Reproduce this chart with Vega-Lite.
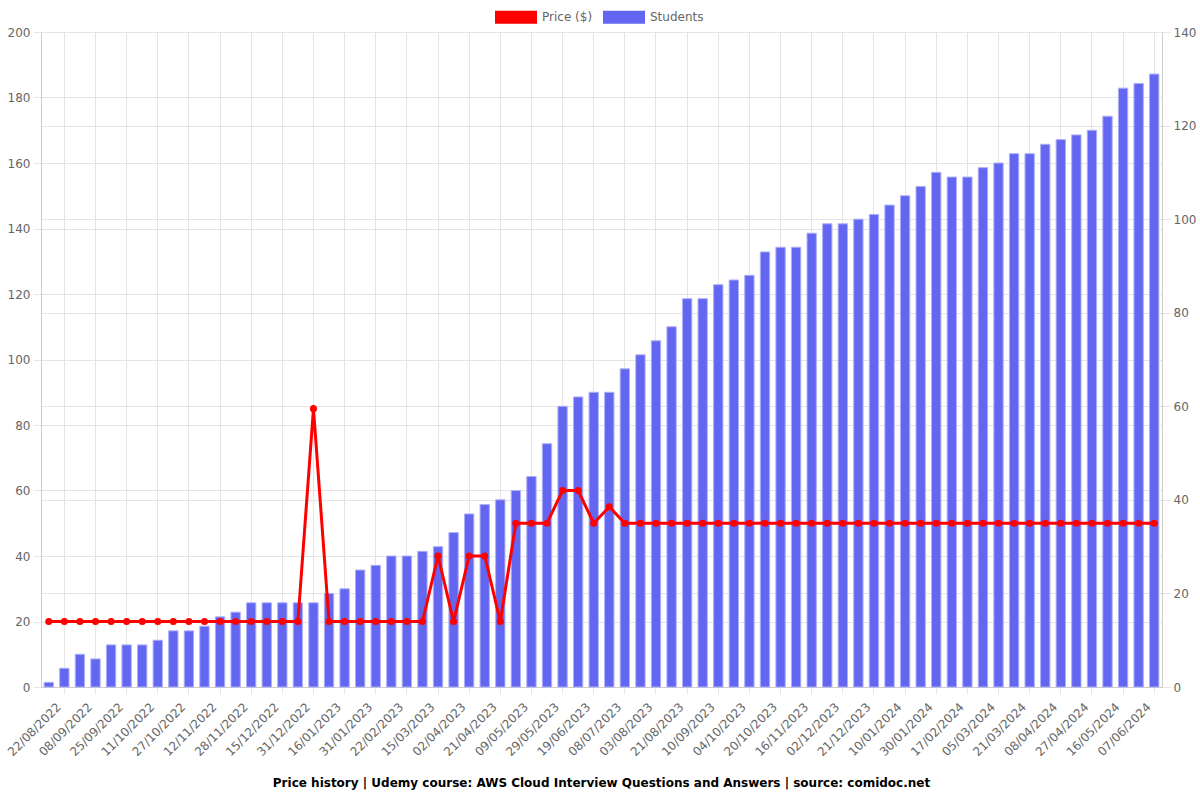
{
  "$schema": "https://vega.github.io/schema/vega-lite/v6.json",
  "width": 1121,
  "height": 655,
  "autosize": {"type": "none"},
  "padding": {"left": 41, "top": 32, "right": 38, "bottom": 113},
  "background": "white",
  "config": {
    "view": {"stroke": null},
    "font": "DejaVu Sans",
    "axis": {
      "labelFont": "DejaVu Sans",
      "labelFontSize": 12,
      "labelColor": "#666666",
      "gridColor": "#e5e5e5",
      "tickColor": "#e5e5e5",
      "domainColor": "#cccccc",
      "tickSize": 8,
      "labelPadding": 3,
      "title": null
    }
  },
  "title": {
    "text": "Price history | Udemy course: AWS Cloud Interview Questions and Answers | source: comidoc.net",
    "orient": "bottom",
    "anchor": "middle",
    "font": "DejaVu Sans",
    "fontSize": 12,
    "fontWeight": "bold",
    "color": "#000000",
    "offset": 20
  },
  "data": {
    "values": [
      {"date": "14/08/2022", "price": 20, "students": 1},
      {"date": "22/08/2022", "price": 20, "students": 4},
      {"date": "31/08/2022", "price": 20, "students": 7},
      {"date": "08/09/2022", "price": 20, "students": 6},
      {"date": "17/09/2022", "price": 20, "students": 9},
      {"date": "25/09/2022", "price": 20, "students": 9},
      {"date": "03/10/2022", "price": 20, "students": 9},
      {"date": "11/10/2022", "price": 20, "students": 10},
      {"date": "19/10/2022", "price": 20, "students": 12},
      {"date": "27/10/2022", "price": 20, "students": 12},
      {"date": "04/11/2022", "price": 20, "students": 13},
      {"date": "12/11/2022", "price": 20, "students": 15},
      {"date": "20/11/2022", "price": 20, "students": 16},
      {"date": "28/11/2022", "price": 20, "students": 18},
      {"date": "06/12/2022", "price": 20, "students": 18},
      {"date": "15/12/2022", "price": 20, "students": 18},
      {"date": "23/12/2022", "price": 20, "students": 18},
      {"date": "31/12/2022", "price": 85, "students": 18},
      {"date": "08/01/2023", "price": 20, "students": 20},
      {"date": "16/01/2023", "price": 20, "students": 21},
      {"date": "24/01/2023", "price": 20, "students": 25},
      {"date": "31/01/2023", "price": 20, "students": 26},
      {"date": "10/02/2023", "price": 20, "students": 28},
      {"date": "22/02/2023", "price": 20, "students": 28},
      {"date": "05/03/2023", "price": 20, "students": 29},
      {"date": "15/03/2023", "price": 40, "students": 30},
      {"date": "24/03/2023", "price": 20, "students": 33},
      {"date": "02/04/2023", "price": 40, "students": 37},
      {"date": "11/04/2023", "price": 40, "students": 39},
      {"date": "21/04/2023", "price": 20, "students": 40},
      {"date": "30/04/2023", "price": 50, "students": 42},
      {"date": "09/05/2023", "price": 50, "students": 45},
      {"date": "19/05/2023", "price": 50, "students": 52},
      {"date": "29/05/2023", "price": 60, "students": 60},
      {"date": "08/06/2023", "price": 60, "students": 62},
      {"date": "19/06/2023", "price": 50, "students": 63},
      {"date": "28/06/2023", "price": 55, "students": 63},
      {"date": "08/07/2023", "price": 50, "students": 68},
      {"date": "22/07/2023", "price": 50, "students": 71},
      {"date": "03/08/2023", "price": 50, "students": 74},
      {"date": "12/08/2023", "price": 50, "students": 77},
      {"date": "21/08/2023", "price": 50, "students": 83},
      {"date": "31/08/2023", "price": 50, "students": 83},
      {"date": "10/09/2023", "price": 50, "students": 86},
      {"date": "22/09/2023", "price": 50, "students": 87},
      {"date": "04/10/2023", "price": 50, "students": 88},
      {"date": "12/10/2023", "price": 50, "students": 93},
      {"date": "20/10/2023", "price": 50, "students": 94},
      {"date": "01/11/2023", "price": 50, "students": 94},
      {"date": "16/11/2023", "price": 50, "students": 97},
      {"date": "24/11/2023", "price": 50, "students": 99},
      {"date": "02/12/2023", "price": 50, "students": 99},
      {"date": "11/12/2023", "price": 50, "students": 100},
      {"date": "21/12/2023", "price": 50, "students": 101},
      {"date": "31/12/2023", "price": 50, "students": 103},
      {"date": "10/01/2024", "price": 50, "students": 105},
      {"date": "20/01/2024", "price": 50, "students": 107},
      {"date": "30/01/2024", "price": 50, "students": 110},
      {"date": "08/02/2024", "price": 50, "students": 109},
      {"date": "17/02/2024", "price": 50, "students": 109},
      {"date": "26/02/2024", "price": 50, "students": 111},
      {"date": "05/03/2024", "price": 50, "students": 112},
      {"date": "13/03/2024", "price": 50, "students": 114},
      {"date": "21/03/2024", "price": 50, "students": 114},
      {"date": "29/03/2024", "price": 50, "students": 116},
      {"date": "08/04/2024", "price": 50, "students": 117},
      {"date": "18/04/2024", "price": 50, "students": 118},
      {"date": "27/04/2024", "price": 50, "students": 119},
      {"date": "06/05/2024", "price": 50, "students": 122},
      {"date": "16/05/2024", "price": 50, "students": 128},
      {"date": "27/05/2024", "price": 50, "students": 129},
      {"date": "07/06/2024", "price": 50, "students": 131}
    ]
  },
  "encoding": {
    "x": {
      "field": "date",
      "type": "nominal",
      "sort": null,
      "scale": {"paddingInner": 0.4, "paddingOuter": 0.2},
      "axis": {
        "labelAngle": -45,
        "bandPosition": 0.5,
        "grid": true,
        "tickSize": 7,
        "labelOffset": -9,
        "labelPadding": 7,
        "values": ["22/08/2022", "08/09/2022", "25/09/2022", "11/10/2022", "27/10/2022", "12/11/2022", "28/11/2022", "15/12/2022", "31/12/2022", "16/01/2023", "31/01/2023", "22/02/2023", "15/03/2023", "02/04/2023", "21/04/2023", "09/05/2023", "29/05/2023", "19/06/2023", "08/07/2023", "03/08/2023", "21/08/2023", "10/09/2023", "04/10/2023", "20/10/2023", "16/11/2023", "02/12/2023", "21/12/2023", "10/01/2024", "30/01/2024", "17/02/2024", "05/03/2024", "21/03/2024", "08/04/2024", "27/04/2024", "16/05/2024", "07/06/2024"]
      }
    }
  },
  "layer": [
    {
      "mark": {"type": "bar", "stroke": "#aeb0f8", "strokeWidth": 1},
      "encoding": {
        "y": {
          "field": "students",
          "type": "quantitative",
          "scale": {"domain": [0, 140], "nice": false},
          "axis": {"orient": "right", "grid": true, "values": [0, 20, 40, 60, 80, 100, 120, 140]}
        },
        "color": {
          "datum": "Students",
          "type": "nominal",
          "scale": {"domain": ["Price ($)", "Students"], "range": ["#ff0000", "#6366f1"]},
          "legend": {
            "title": null,
            "orient": "none",
            "direction": "horizontal",
            "legendX": 454,
            "legendY": -36,
            "padding": 0,
            "symbolType": "M-1,-0.31L1,-0.31L1,0.31L-1,0.31Z",
            "symbolSize": 1764,
            "symbolStrokeWidth": 0,
            "labelFont": "DejaVu Sans",
            "labelFontSize": 12,
            "labelColor": "#666666",
            "columnPadding": 10,
            "labelOffset": 5
          }
        }
      }
    },
    {
      "mark": {"type": "line", "color": "#ff0000", "strokeWidth": 3, "point": {"filled": true, "size": 50, "color": "#ff0000"}},
      "encoding": {
        "y": {
          "field": "price",
          "type": "quantitative",
          "scale": {"domain": [0, 200], "nice": false},
          "axis": {"orient": "left", "grid": true, "values": [0, 20, 40, 60, 80, 100, 120, 140, 160, 180, 200]}
        }
      }
    }
  ],
  "resolve": {"scale": {"y": "independent"}}
}
